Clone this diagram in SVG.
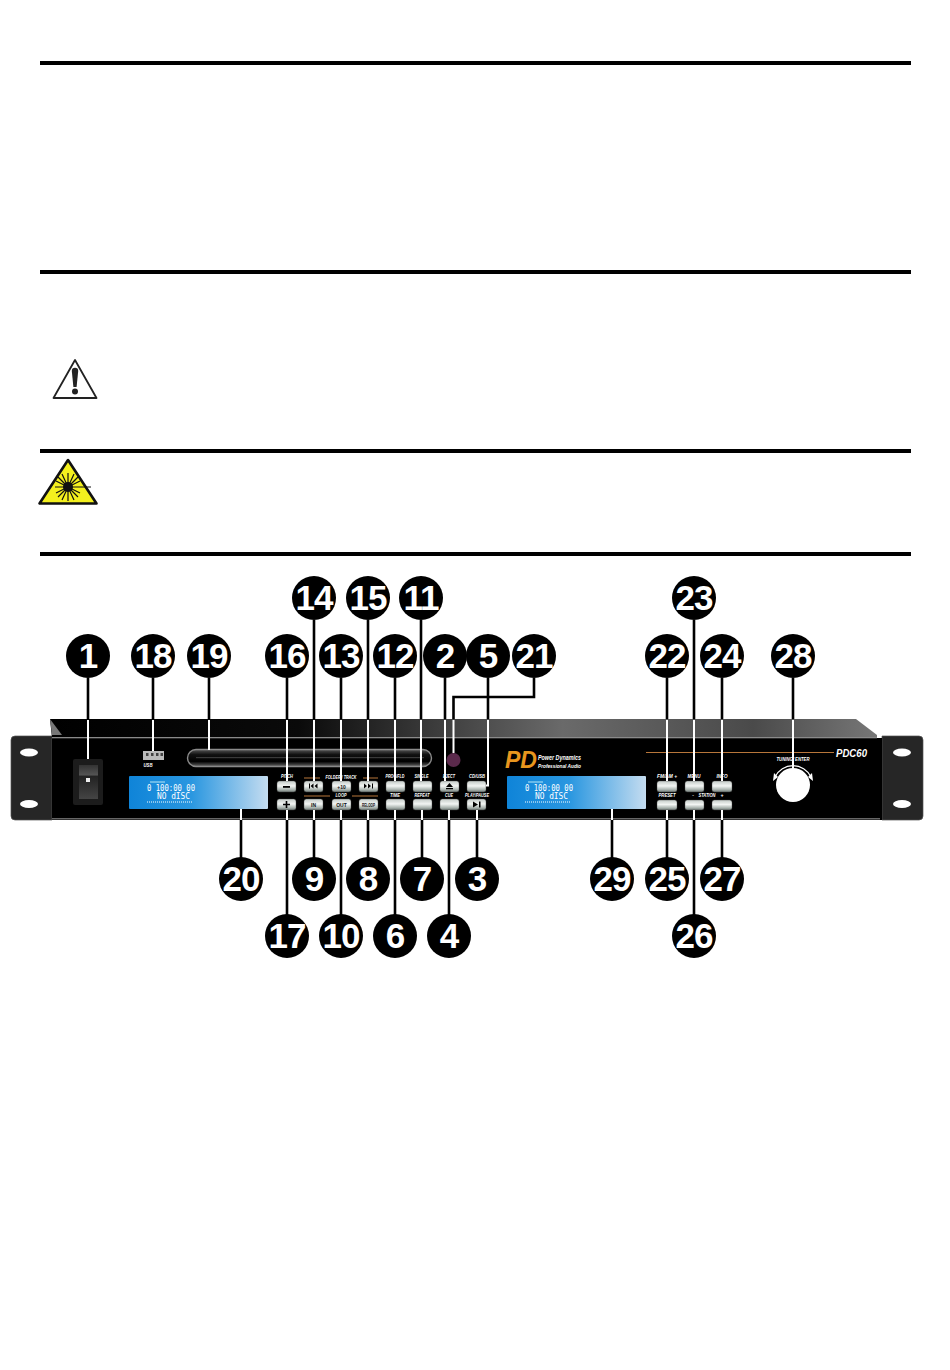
<svg xmlns="http://www.w3.org/2000/svg" width="950" height="1370" viewBox="0 0 950 1370">
<defs>
<linearGradient id="band" x1="0" y1="0" x2="1" y2="0"><stop offset="0" stop-color="#000"/><stop offset="0.3" stop-color="#0a0a0a"/><stop offset="0.62" stop-color="#6a6a6a"/><stop offset="0.85" stop-color="#4a4a4a"/><stop offset="1" stop-color="#777"/></linearGradient>
<linearGradient id="lcd" x1="0" y1="0" x2="1" y2="0"><stop offset="0" stop-color="#0f84d8"/><stop offset="0.45" stop-color="#2a97e0"/><stop offset="1" stop-color="#c4dcf0"/></linearGradient>
<linearGradient id="btn" x1="0" y1="0" x2="0" y2="1"><stop offset="0" stop-color="#c4cbc7"/><stop offset="0.45" stop-color="#f2f5f3"/><stop offset="0.8" stop-color="#a8b2ad"/><stop offset="1" stop-color="#6f7875"/></linearGradient>
<linearGradient id="swt" x1="0" y1="0" x2="0" y2="1"><stop offset="0" stop-color="#333"/><stop offset="0.3" stop-color="#555"/><stop offset="0.32" stop-color="#222"/><stop offset="1" stop-color="#444"/></linearGradient>
<linearGradient id="slot" x1="0" y1="0" x2="0" y2="1"><stop offset="0" stop-color="#555"/><stop offset="0.3" stop-color="#111"/><stop offset="0.7" stop-color="#000"/><stop offset="1" stop-color="#666"/></linearGradient>
</defs>
<style>
.rule{fill:#000}
.ear{fill:#262626;stroke:#555;stroke-width:.7}
.hole{fill:#fff}
.b{fill:url(#btn);stroke:#444;stroke-width:.4}
.lcd{fill:url(#lcd)}
.lbl{font:italic bold 5px "Liberation Sans",Arial,sans-serif;fill:#fff;text-anchor:middle}
.cap{font:bold 5px "Liberation Sans",Arial,sans-serif;fill:#111;text-anchor:middle}
.lt{font:9px "DejaVu Sans Mono",monospace;fill:#fff}
.num{font:bold 35px "Liberation Sans",Arial,sans-serif;fill:#fff;text-anchor:middle;letter-spacing:-1px}
.k{stroke:#000;stroke-width:2.6;fill:none}
.w{stroke:#fff;stroke-width:2;fill:none}
.or{stroke:#b8763a;stroke-width:1.2;fill:none}
.g{fill:#000}
</style>

<g id="rules">
<rect class="rule" x="40" y="61" width="871" height="4"/>
<rect class="rule" x="40" y="270" width="871" height="4"/>
<rect class="rule" x="40" y="449" width="871" height="4"/>
<rect class="rule" x="40" y="552" width="871" height="4"/>
</g>

<g id="warning-icon">
<path d="M75 360 L53.500 398 H96.500 Z" fill="#fff" stroke="#222" stroke-width="1.800" stroke-linejoin="round"/>
<path d="M71.800 371 a3.200 3.200 0 0 1 6.400 0 L76.600 387 H73.400 Z" fill="#222"/>
<circle cx="75" cy="391.500" r="3" fill="#222"/>
</g>

<g id="laser-icon">
<path d="M68 460 L39.500 503.500 H96.500 Z" fill="#f4f01e" stroke="#111" stroke-width="2.600" stroke-linejoin="round"/>
<g stroke="#111" stroke-width="1.200">
<path d="M68 473 V501 M55 487 H91 M58 477 L78 497 M78 477 L58 497 M62 474 L74 500 M74 474 L62 500 M56 481 L80 493 M80 481 L56 493"/>
</g>
<circle cx="68" cy="487" r="5" fill="#111"/>
</g>

<g id="rack">
<path d="M11 740 Q11 736 15 736 H52 V820 H15 Q11 820 11 816 Z" class="ear"/>
<path d="M882 736 H919 Q923 736 923 740 V816 Q923 820 919 820 H882 Z" class="ear"/>
<ellipse class="hole" cx="29" cy="752.500" rx="9" ry="4"/>
<ellipse class="hole" cx="29" cy="804" rx="9" ry="4"/>
<ellipse class="hole" cx="902" cy="752.500" rx="9" ry="4"/>
<ellipse class="hole" cx="902" cy="804" rx="9" ry="4"/>
<path d="M50 719 H856 L877 735 V738 H52 Z" fill="url(#band)"/>
<path d="M50 719 L62 735 H52 Z" fill="#777"/>
<rect x="52" y="738" width="830" height="82" fill="#000"/>
<rect x="52" y="737" width="825" height="1.300" fill="#8a8a8a"/>
<rect x="52" y="818" width="828" height="1.500" fill="#666"/>
</g>

<g id="power-switch">
<rect x="73" y="759" width="30" height="46" rx="2" fill="#1c1c1c"/>
<rect x="79" y="765" width="19" height="34" fill="url(#swt)"/>
<rect x="86" y="778" width="4" height="4" fill="#eee"/>
</g>

<g id="usb-port">
<rect x="143" y="751" width="21" height="9" fill="#bbb"/>
<rect x="146" y="753" width="2.500" height="3" fill="#444"/><rect x="151" y="753" width="2.500" height="3" fill="#444"/><rect x="156" y="753" width="2.500" height="3" fill="#444"/><rect x="160.500" y="753" width="2.500" height="3" fill="#444"/>
<text class="lbl" x="148" y="766.500" textLength="9" lengthAdjust="spacingAndGlyphs">USB</text>
</g>

<g id="disc-slot">
<rect x="187.500" y="749.500" width="244" height="17" rx="8.500" fill="url(#slot)" stroke="#8a8a8a" stroke-width="1.400"/>
<rect x="196" y="757" width="228" height="1.200" fill="#3a3a3a"/>
</g>

<g id="ir-sensor"><circle cx="453.500" cy="760" r="7" fill="#5b2a4c"/></g>

<g id="display-1">
<rect class="lcd" x="129" y="776" width="139" height="33" rx="1"/>
<rect x="150" y="781.500" width="15" height="1" fill="#dff" opacity=".8"/>
<text class="lt" x="147" y="791" textLength="48" lengthAdjust="spacingAndGlyphs">0 100:00 00</text>
<text class="lt" x="157" y="799" font-size="8" textLength="33" lengthAdjust="spacingAndGlyphs">NO dISC</text>
<path d="M147 802 H192" stroke="#fff" stroke-width="1" stroke-dasharray="1 1"/>
</g>

<g id="display-2">
<rect class="lcd" x="507" y="776" width="139" height="33" rx="1"/>
<rect x="528" y="781.500" width="15" height="1" fill="#dff" opacity=".8"/>
<text class="lt" x="525" y="791" textLength="48" lengthAdjust="spacingAndGlyphs">0 100:00 00</text>
<text class="lt" x="535" y="799" font-size="8" textLength="33" lengthAdjust="spacingAndGlyphs">NO dISC</text>
<path d="M525 802 H570" stroke="#fff" stroke-width="1" stroke-dasharray="1 1"/>
</g>

<g id="logo">
<text x="505" y="768" font-family="Liberation Sans, Arial, sans-serif" font-weight="bold" font-style="italic" font-size="24" fill="#e8961e" textLength="32" lengthAdjust="spacingAndGlyphs">PD</text>
<text x="538" y="760" font-family="Liberation Sans, Arial, sans-serif" font-weight="bold" font-style="italic" font-size="7.500" fill="#fff" textLength="43" lengthAdjust="spacingAndGlyphs">Power Dynamics</text>
<text x="538" y="768" font-family="Liberation Sans, Arial, sans-serif" font-weight="bold" font-style="italic" font-size="5.500" fill="#fff" textLength="43" lengthAdjust="spacingAndGlyphs">Professional Audio</text>
</g>

<g id="model">
<path class="or" d="M646 752.500 H834"/>
<text x="836" y="757" font-family="Liberation Sans, Arial, sans-serif" font-weight="bold" font-style="italic" font-size="11.500" fill="#fff" textLength="31" lengthAdjust="spacingAndGlyphs">PDC60</text>
</g>

<g id="buttons-left">
<rect class="b" x="277" y="781" width="19" height="11" rx="2.500"/><rect class="g" x="283" y="786" width="7" height="1.800"/>
<rect class="b" x="277" y="799" width="19" height="11" rx="2.500"/><path d="M283 804.500 H290 M286.500 801 V808" stroke="#000" stroke-width="1.600"/>
<rect class="b" x="304" y="781" width="19" height="11" rx="2.500"/><path class="g" d="M309 783.500 h1 v5 h-1 Z M313.500 783.500 v5 l-3 -2.500 Z M317.500 783.500 v5 l-3 -2.500 Z"/>
<rect class="b" x="304" y="799" width="19" height="11" rx="2.500"/><text class="cap" x="313.500" y="806.500">IN</text>
<rect class="b" x="332" y="781" width="19" height="11" rx="2.500"/><text class="cap" x="341.500" y="788.500">+10</text>
<rect class="b" x="332" y="799" width="19" height="11" rx="2.500"/><text class="cap" x="341.500" y="806.500">OUT</text>
<rect class="b" x="359" y="781" width="19" height="11" rx="2.500"/><path class="g" d="M364 783.500 v5 l3 -2.500 Z M368 783.500 v5 l3 -2.500 Z M372 783.500 h1 v5 h-1 Z"/>
<rect class="b" x="359" y="799" width="19" height="11" rx="2.500"/><text class="cap" x="368.500" y="806.500" font-size="4" textLength="13" lengthAdjust="spacingAndGlyphs">RELOOP</text>
<rect class="b" x="386" y="781" width="19" height="11" rx="2.500"/>
<rect class="b" x="386" y="799" width="19" height="11" rx="2.500"/>
<rect class="b" x="413" y="781" width="19" height="11" rx="2.500"/>
<rect class="b" x="413" y="799" width="19" height="11" rx="2.500"/>
<rect class="b" x="440" y="781" width="19" height="11" rx="2.500"/><path class="g" d="M449.500 783 l3.500 4 h-7 Z M446 788 h7 v1.200 h-7 Z"/>
<rect class="b" x="440" y="799" width="19" height="11" rx="2.500"/>
<rect class="b" x="467" y="781" width="19" height="11" rx="2.500"/>
<rect class="b" x="467" y="799" width="19" height="11" rx="2.500"/><path class="g" d="M473 801.500 l5 3 l-5 3 Z M479 801.500 h1.500 v6 h-1.500 Z"/>
<path class="or" d="M304 778 H320 M363 778 H378 M304 796 H330 M352 796 H378"/>
<text class="lbl" x="287" y="778" textLength="12" lengthAdjust="spacingAndGlyphs">PITCH</text>
<text class="lbl" x="341" y="778.500" textLength="31" lengthAdjust="spacingAndGlyphs">FOLDER / TRACK</text>
<text class="lbl" x="341" y="797" textLength="11" lengthAdjust="spacingAndGlyphs">LOOP</text>
<text class="lbl" x="395" y="778" font-size="4" textLength="19" lengthAdjust="spacingAndGlyphs">PROG/FLD</text>
<text class="lbl" x="421.500" y="778" textLength="14" lengthAdjust="spacingAndGlyphs">SINGLE</text>
<text class="lbl" x="449" y="778" textLength="12" lengthAdjust="spacingAndGlyphs">EJECT</text>
<text class="lbl" x="477" y="778" textLength="16" lengthAdjust="spacingAndGlyphs">CD/USB</text>
<text class="lbl" x="395" y="796.500" textLength="10" lengthAdjust="spacingAndGlyphs">TIME</text>
<text class="lbl" x="422" y="796.500" textLength="15" lengthAdjust="spacingAndGlyphs">REPEAT</text>
<text class="lbl" x="449" y="796.500" textLength="8" lengthAdjust="spacingAndGlyphs">CUE</text>
<text class="lbl" x="477" y="796.500" textLength="24" lengthAdjust="spacingAndGlyphs">PLAY/PAUSE</text>
</g>

<g id="buttons-right">
<rect class="b" x="657" y="781" width="20" height="11" rx="2.500"/>
<rect class="b" x="685" y="781" width="19" height="11" rx="2.500"/>
<rect class="b" x="712" y="781" width="20" height="11" rx="2.500"/>
<rect class="b" x="657" y="800" width="20" height="10" rx="2.500"/>
<rect class="b" x="685" y="800" width="19" height="10" rx="2.500"/>
<rect class="b" x="712" y="800" width="20" height="10" rx="2.500"/>
<text class="lbl" x="667" y="778" textLength="20" lengthAdjust="spacingAndGlyphs">FM/AM +</text>
<text class="lbl" x="694" y="778" textLength="13" lengthAdjust="spacingAndGlyphs">MENU</text>
<text class="lbl" x="722" y="778" textLength="11" lengthAdjust="spacingAndGlyphs">INFO</text>
<text class="lbl" x="667" y="797" textLength="17" lengthAdjust="spacingAndGlyphs">PRESET</text>
<text class="lbl" x="693" y="797">-</text>
<text class="lbl" x="707" y="797" textLength="17" lengthAdjust="spacingAndGlyphs">STATION</text>
<text class="lbl" x="722" y="797">+</text>
</g>

<g id="tuning-knob">
<circle cx="793" cy="785" r="17" fill="#fff"/>
<path d="M775 777 A20 20 0 0 1 811 777" fill="none" stroke="#fff" stroke-width="1.200"/>
<path d="M773 781 L774 773 L778 777 Z M813 781 L812 773 L808 777 Z" fill="#fff"/>
<text class="lbl" x="793" y="760.500" textLength="33" lengthAdjust="spacingAndGlyphs">TUNING/ ENTER</text>
</g>

<g id="connectors">
<path class="k" d="M88 678 V719 M153 678 V719 M209 678 V719 M287 678 V719 M341 678 V719 M395 678 V719 M445 678 V719 M488 678 V719 M667 678 V719 M722 678 V719 M793 678 V719 M314 620 V719 M368 620 V719 M421 620 V719 M694 620 V719"/>
<path class="k" d="M534 678 V697 H453.500 V719"/>
<path class="w" d="M88 720 V759 M153 720 V751 M209 720 V750 M287 720 V781 M314 720 V781 M341 720 V781 M368 720 V781 M395 720 V781 M421 720 V781 M445 720 V781 M453.500 720 V753 M488 720 V785.500 H486 M667 720 V781 M694 720 V781 M722 720 V781 M793 720 V769"/>
<path class="w" d="M241 809 V820 M287 810 V820 M314 810 V820 M341 810 V820 M368 810 V820 M395 810 V820 M422 810 V820 M449 810 V820 M477 810 V820 M612 809 V820 M667 810 V820 M694 810 V820 M722 810 V820"/>
<path class="k" d="M241 820 V858 M314 820 V858 M368 820 V858 M422 820 V858 M477 820 V858 M612 820 V858 M667 820 V858 M722 820 V858 M287 820 V915 M341 820 V915 M395 820 V915 M449 820 V915 M694 820 V915"/>
</g>

<g id="callout-1"><circle cx="88" cy="656" r="22"/><text class="num" x="88" y="668">1</text></g>
<g id="callout-2"><circle cx="445" cy="656" r="22"/><text class="num" x="445" y="668">2</text></g>
<g id="callout-3"><circle cx="477" cy="879" r="22"/><text class="num" x="477" y="891">3</text></g>
<g id="callout-4"><circle cx="449" cy="936" r="22"/><text class="num" x="449" y="948">4</text></g>
<g id="callout-5"><circle cx="488" cy="656" r="22"/><text class="num" x="488" y="668">5</text></g>
<g id="callout-6"><circle cx="395" cy="936" r="22"/><text class="num" x="395" y="948">6</text></g>
<g id="callout-7"><circle cx="422" cy="879" r="22"/><text class="num" x="422" y="891">7</text></g>
<g id="callout-8"><circle cx="368" cy="879" r="22"/><text class="num" x="368" y="891">8</text></g>
<g id="callout-9"><circle cx="314" cy="879" r="22"/><text class="num" x="314" y="891">9</text></g>
<g id="callout-10"><circle cx="341" cy="936" r="22"/><text class="num" x="341" y="948">10</text></g>
<g id="callout-11"><circle cx="421" cy="598" r="22"/><text class="num" x="421" y="610">11</text></g>
<g id="callout-12"><circle cx="395" cy="656" r="22"/><text class="num" x="395" y="668">12</text></g>
<g id="callout-13"><circle cx="341" cy="656" r="22"/><text class="num" x="341" y="668">13</text></g>
<g id="callout-14"><circle cx="314" cy="598" r="22"/><text class="num" x="314" y="610">14</text></g>
<g id="callout-15"><circle cx="368" cy="598" r="22"/><text class="num" x="368" y="610">15</text></g>
<g id="callout-16"><circle cx="287" cy="656" r="22"/><text class="num" x="287" y="668">16</text></g>
<g id="callout-17"><circle cx="287" cy="936" r="22"/><text class="num" x="287" y="948">17</text></g>
<g id="callout-18"><circle cx="153" cy="656" r="22"/><text class="num" x="153" y="668">18</text></g>
<g id="callout-19"><circle cx="209" cy="656" r="22"/><text class="num" x="209" y="668">19</text></g>
<g id="callout-20"><circle cx="241" cy="879" r="22"/><text class="num" x="241" y="891">20</text></g>
<g id="callout-21"><circle cx="534" cy="656" r="22"/><text class="num" x="534" y="668">21</text></g>
<g id="callout-22"><circle cx="667" cy="656" r="22"/><text class="num" x="667" y="668">22</text></g>
<g id="callout-23"><circle cx="694" cy="598" r="22"/><text class="num" x="694" y="610">23</text></g>
<g id="callout-24"><circle cx="722" cy="656" r="22"/><text class="num" x="722" y="668">24</text></g>
<g id="callout-25"><circle cx="667" cy="879" r="22"/><text class="num" x="667" y="891">25</text></g>
<g id="callout-26"><circle cx="694" cy="936" r="22"/><text class="num" x="694" y="948">26</text></g>
<g id="callout-27"><circle cx="722" cy="879" r="22"/><text class="num" x="722" y="891">27</text></g>
<g id="callout-28"><circle cx="793" cy="656" r="22"/><text class="num" x="793" y="668">28</text></g>
<g id="callout-29"><circle cx="612" cy="879" r="22"/><text class="num" x="612" y="891">29</text></g>
</svg>
